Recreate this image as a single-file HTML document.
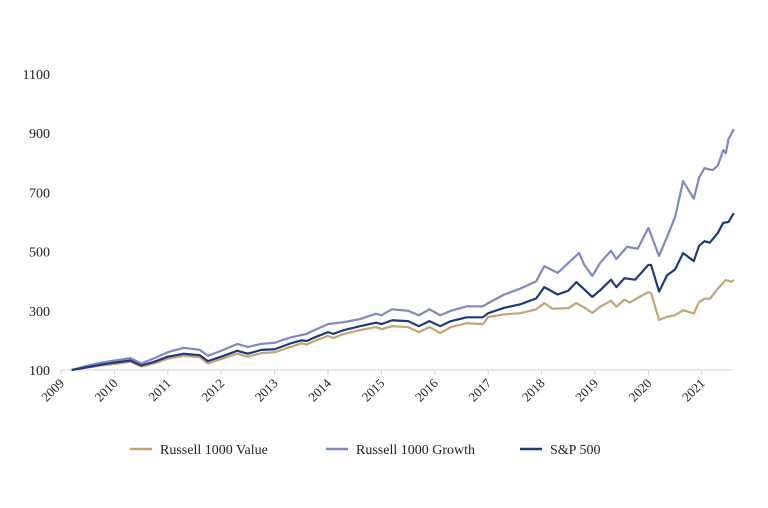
<!DOCTYPE html>
<html><head><meta charset="utf-8"><style>
body{margin:0;background:#fff;}
svg{display:block;font-family:"Liberation Serif",serif;}
</style></head><body>
<svg id="chart" width="768" height="508"></svg>
<script>
const yTicks=[100,300,500,700,900,1100];
const xTicks=[2009,2010,2011,2012,2013,2014,2015,2016,2017,2018,2019,2020,2021];
const growthDates=[2009.2,2009.5,2009.75,2010.0,2010.3,2010.5,2010.75,2011.0,2011.3,2011.6,2011.75,2012.0,2012.3,2012.5,2012.75,2013.0,2013.3,2013.6,2013.75,2014.0,2014.3,2014.6,2014.9,2015.0,2015.2,2015.5,2015.7,2015.9,2016.1,2016.3,2016.6,2016.9,2017.0,2017.3,2017.6,2017.9,2018.05,2018.3,2018.7,2018.8,2018.95,2019.1,2019.3,2019.4,2019.6,2019.8,2020.0,2020.2,2020.35,2020.5,2020.65,2020.85,2020.95,2021.05,2021.2,2021.3,2021.4,2021.45,2021.5,2021.6];
const growthValues=[100,115,125,132,140,122,140,160,175,168,148,165,188,178,188,192,210,222,235,255,262,272,290,285,305,300,285,305,285,300,315,315,326,355,375,400,451,428,495,455,418,463,503,475,516,510,580,485,550,617,738,679,750,782,775,790,843,832,880,914];
const spDates=[2009.2,2009.75,2010.0,2010.3,2010.5,2010.75,2011.0,2011.3,2011.6,2011.75,2012.0,2012.3,2012.5,2012.75,2013.0,2013.3,2013.5,2013.6,2013.75,2014.0,2014.1,2014.3,2014.6,2014.9,2015.0,2015.2,2015.5,2015.7,2015.9,2016.1,2016.3,2016.6,2016.9,2017.0,2017.3,2017.6,2017.9,2018.05,2018.3,2018.5,2018.65,2018.8,2018.95,2019.1,2019.3,2019.4,2019.55,2019.75,2020.0,2020.05,2020.2,2020.35,2020.5,2020.65,2020.85,2020.95,2021.05,2021.15,2021.3,2021.4,2021.5,2021.6];
const spValues=[100,118,125,132,115,128,145,155,150,130,145,165,155,168,170,190,200,198,210,228,222,235,248,260,255,268,265,248,265,248,265,278,278,292,310,322,342,380,355,368,397,372,347,370,405,380,410,405,455,455,365,420,440,495,468,520,535,530,563,597,600,630];
const valueDates=[2009.2,2009.75,2010.0,2010.3,2010.5,2010.75,2011.0,2011.3,2011.6,2011.75,2012.0,2012.3,2012.5,2012.75,2013.0,2013.3,2013.5,2013.6,2013.75,2014.0,2014.1,2014.3,2014.6,2014.9,2015.0,2015.2,2015.5,2015.7,2015.9,2016.1,2016.3,2016.6,2016.9,2017.0,2017.3,2017.6,2017.9,2018.05,2018.2,2018.5,2018.65,2018.8,2018.95,2019.1,2019.3,2019.4,2019.55,2019.65,2019.8,2020.0,2020.05,2020.2,2020.35,2020.5,2020.65,2020.85,2020.95,2021.05,2021.15,2021.3,2021.45,2021.55,2021.6];
const valueValues=[100,115,120,128,112,122,138,148,143,122,137,155,145,157,160,178,190,186,198,215,208,222,235,245,238,248,245,228,245,225,245,258,255,279,288,292,305,326,307,309,326,311,293,314,334,314,338,328,344,363,360,269,280,285,302,291,330,341,340,375,404,398,404];

const svg=document.getElementById('chart');
const NS='http://www.w3.org/2000/svg';
const x=v=>61+(v-2009)*53.4;
const y=v=>370-(v-100)*0.296;
function mk(tag,attrs){const e=document.createElementNS(NS,tag);for(const k in attrs)e.setAttribute(k,attrs[k]);svg.appendChild(e);return e;}

const axis=mk('line',{x1:61,x2:733,y1:370,y2:370,stroke:'#d0d0d0','stroke-width':1});


yTicks.forEach(t=>{
  const tx=mk('text',{x:50,y:y(t)+5,'text-anchor':'end','font-size':14,fill:'#222'});
  tx.textContent=t;
  
  
});
xTicks.forEach(t=>{
  const tk=mk('line',{x1:x(t),x2:x(t),y1:370,y2:375,stroke:'#d0d0d0'});
  
  
  const tx=mk('text',{x:x(t)+4,y:384,'text-anchor':'end','font-size':13,fill:'#222',transform:`rotate(-45 ${x(t)+4} 384)`});
  tx.textContent=t;
  
  
});
function line(d,v,color,name){
  const p=mk('polyline',{points:d.map((dd,i)=>x(dd)+','+y(v[i])).join(' '),fill:'none',stroke:color,'stroke-width':2.2,'stroke-linejoin':'round'});
  
  
}
line(valueDates,valueValues,'#c4a574','russell-1000-value-line');
line(growthDates,growthValues,'#8088c0','russell-1000-growth-line');
line(spDates,spValues,'#1f3a7a','sp500-line');
const legend=[['Russell 1000 Value','#c4a574',130],['Russell 1000 Growth','#8088c0',326],['S&P 500','#1f3a7a',520]];
legend.forEach(l=>{
  const ln=mk('line',{x1:l[2],x2:l[2]+22,y1:449,y2:449,stroke:l[1],'stroke-width':2.5});
  
  
  const tx=mk('text',{x:l[2]+30,y:454,'font-size':14,fill:'#222'});
  tx.textContent=l[0];
  
  
});
</script>
</body></html>
